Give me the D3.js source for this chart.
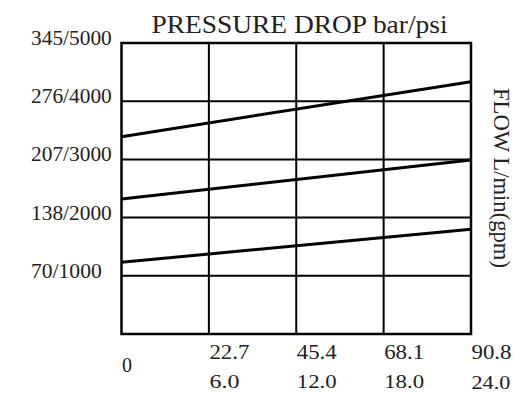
<!DOCTYPE html>
<html>
<head>
<meta charset="utf-8">
<script src="https://cdn.jsdelivr.net/npm/d3@7"></script>
<style>
  html, body { margin: 0; padding: 0; background: #fff; }
  svg { display: block; }
  text { font-family: "Liberation Serif", "DejaVu Serif", serif; fill: #222; }
</style>
</head>
<body>
<svg id="chart" width="513" height="393"></svg>
<script>
// ---- data ----
const flowDomain = [0, 90.8];               // L/min
const pressureDomain = [0, 5000];           // psi
const xGridFlows = [22.7, 45.4, 68.1];
const yGridPsi = [1000, 2000, 3000, 4000];
const yTickPsi = [1000, 2000, 3000, 4000, 5000];
const yTickLabels = ["70/1000", "138/2000", "207/3000", "276/4000", "345/5000"];
const xTickFlows = [0, 22.7, 45.4, 68.1, 90.8];
const xTickLabelsLpm = ["0", "22.7", "45.4", "68.1", "90.8"];
const xTickLabelsGpm = ["", "6.0", "12.0", "18.0", "24.0"];
const curveFlows = [0, 90.8];
const curveHigh = [3390, 4335];
const curveMid = [2320, 2990];
const curveLow = [1232, 1800];
const seriesList = [curveHigh, curveMid, curveLow];
const titleText = "PRESSURE DROP bar/psi";
const rightLabel = "FLOW L/min(gpm)";

// ---- drawing ----
const svg = d3.select("#chart");
const x = d3.scaleLinear().domain(flowDomain).range([121.5, 471]);
const y = d3.scaleLinear().domain(pressureDomain).range([334, 43]);

// grid
svg.append("g").selectAll("line").data(xGridFlows).join("line")
  .attr("x1", d => x(d)).attr("x2", d => x(d))
  .attr("y1", y(pressureDomain[1])).attr("y2", y(0))
  .attr("stroke", "#000").attr("stroke-width", 2);
svg.append("g").selectAll("line").data(yGridPsi).join("line")
  .attr("x1", x(0)).attr("x2", x(flowDomain[1]))
  .attr("y1", d => y(d)).attr("y2", d => y(d))
  .attr("stroke", "#000").attr("stroke-width", 2);

// border
svg.append("rect")
  .attr("x", x(0)).attr("y", y(pressureDomain[1]))
  .attr("width", x(flowDomain[1]) - x(0))
  .attr("height", y(0) - y(pressureDomain[1]))
  .attr("fill", "none").attr("stroke", "#000").attr("stroke-width", 2.5);

// curves
const line = d3.line().x((d, i) => x(curveFlows[i])).y(d => y(d));
svg.append("g").selectAll("path").data(seriesList).join("path")
  .attr("d", d => line(d))
  .attr("fill", "none").attr("stroke", "#000").attr("stroke-width", 3);

// y labels
svg.append("g").selectAll("text").data(yTickPsi).join("text")
  .attr("x", 31).attr("y", d => y(d) + 2)
  .attr("font-size", 20)
  .attr("textLength", (d, i) => yTickLabels[i].length * 10.1)
  .attr("lengthAdjust", "spacingAndGlyphs")
  .text((d, i) => yTickLabels[i]);

// x labels row 1 (L/min)
svg.append("g").selectAll("text").data(xTickFlows).join("text")
  .attr("x", d => x(d) + 0.5)
  .attr("y", (d, i) => i === 0 ? 372 : 359)
  .attr("font-size", 20)
  .attr("textLength", (d, i) => xTickLabelsLpm[i].length * 10)
  .attr("lengthAdjust", "spacingAndGlyphs")
  .text((d, i) => xTickLabelsLpm[i]);

// x labels row 2 (gpm)
svg.append("g").selectAll("text").data(xTickFlows.filter((d, i) => xTickLabelsGpm[i] !== "")).join("text")
  .attr("x", d => x(d) + 0.5)
  .attr("y", d => d === flowDomain[1] ? 389 : 388)
  .attr("font-size", 19)
  .attr("textLength", d => xTickLabelsGpm[xTickFlows.indexOf(d)].length * (d === flowDomain[1] ? 9.7 : 10))
  .attr("lengthAdjust", "spacingAndGlyphs")
  .text(d => xTickLabelsGpm[xTickFlows.indexOf(d)]);

// title
svg.append("text")
  .attr("x", 151.5).attr("y", 33)
  .attr("font-size", 26)
  .attr("textLength", 296)
  .attr("lengthAdjust", "spacingAndGlyphs")
  .text(titleText);

// right rotated label
svg.append("text")
  .attr("transform", "translate(494,88) rotate(90)")
  .attr("font-size", 23)
  .attr("textLength", 180)
  .attr("lengthAdjust", "spacingAndGlyphs")
  .text(rightLabel);
</script>
</body>
</html>
